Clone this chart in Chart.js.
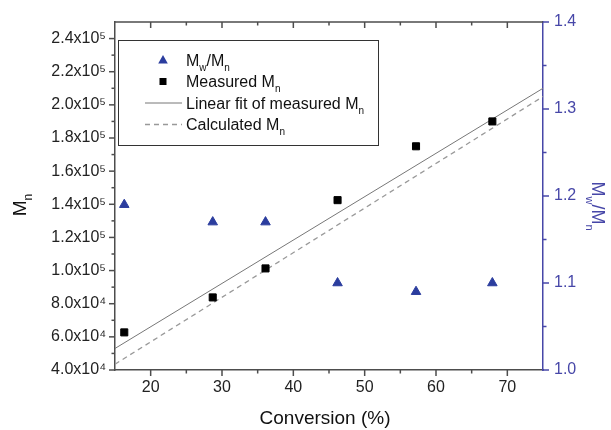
<!DOCTYPE html>
<html>
<head>
<meta charset="utf-8">
<script src="https://cdn.jsdelivr.net/npm/chart.js@4.4.1/dist/chart.umd.min.js"></script>
<style>
html, body { margin: 0; padding: 0; background: #fff; }
</style>
</head>
<body>
<canvas id="chartMn" width="611" height="430"></canvas>
<script>
// values
const conversion = [16.3, 28.7, 36.1, 46.2, 57.2, 67.9];
const measuredMn = [62700, 83800, 101300, 142500, 175000, 190000];
const dispersity = [1.19, 1.17, 1.17, 1.10, 1.09, 1.10];
const fitX = [15, 75];
const fitMn = [53000, 210000];
const calcX = [15, 75];
const calcMn = [43500, 205000];

// axis ticks
const xTicks = [20, 30, 40, 50, 60, 70];
const xMinor = [25, 35, 45, 55, 65];
const mnTicks = [40000, 60000, 80000, 100000, 120000, 140000, 160000, 180000, 200000, 220000, 240000];
const mnMinor = [50000, 70000, 90000, 110000, 130000, 150000, 170000, 190000, 210000, 230000];
const pdiTicks = [1.0, 1.1, 1.2, 1.3, 1.4];
const pdiMinor = [1.05, 1.15, 1.25, 1.35];

const FONT = '"Liberation Sans", Arial, sans-serif';
const AXIS = '#4d4d4d';
const BLUE = '#4747a8';
const TRI = '#2b3d9e';

function pts(xs, ys) {
    return xs.map(function(x, i) { return { x: x, y: ys[i] }; });
}

function fmtMn(v) {
    if (v >= 100000) return (v / 100000).toFixed(1) + 'x10\u2075';
    return (v / 10000).toFixed(1) + 'x10\u2074';
}

// text with subscripts, parts = [[text, isSub], ...]
function drawRich(ctx, parts, x, y, size, align) {
    var sub = Math.round(size * 0.62);
    var w = 0;
    parts.forEach(function(p) {
        ctx.font = (p[1] ? sub : size) + 'px ' + FONT;
        w += ctx.measureText(p[0]).width;
    });
    var cx = align === 'center' ? x - w / 2 : x;
    ctx.textAlign = 'left';
    ctx.textBaseline = 'alphabetic';
    parts.forEach(function(p) {
        ctx.font = (p[1] ? sub : size) + 'px ' + FONT;
        ctx.fillText(p[0], cx, p[1] ? y + size * 0.32 : y);
        cx += ctx.measureText(p[0]).width;
    });
}

function line(ctx, x1, y1, x2, y2) {
    ctx.beginPath();
    ctx.moveTo(x1, y1);
    ctx.lineTo(x2, y2);
    ctx.stroke();
}

const extras = {
    id: 'extras',
    afterDraw(chart) {
        const ctx = chart.ctx;
        const a = chart.chartArea;
        const sx = chart.scales.x, sy = chart.scales.y, sy1 = chart.scales.y1;
        ctx.save();

        // top frame
        ctx.strokeStyle = AXIS;
        ctx.lineWidth = 1.5;
        line(ctx, a.left, a.top, a.right, a.top);

        // tick marks
        ctx.lineWidth = 1.5;
        xTicks.forEach(function(v) {
            var p = sx.getPixelForValue(v);
            line(ctx, p, a.bottom, p, a.bottom + 6);
            line(ctx, p, a.top, p, a.top + 6);
        });
        xMinor.forEach(function(v) {
            var p = sx.getPixelForValue(v);
            line(ctx, p, a.bottom, p, a.bottom + 3.5);
            line(ctx, p, a.top, p, a.top + 3.5);
        });
        mnTicks.forEach(function(v) {
            var p = sy.getPixelForValue(v);
            line(ctx, a.left, p, a.left - 6, p);
        });
        mnMinor.forEach(function(v) {
            var p = sy.getPixelForValue(v);
            line(ctx, a.left, p, a.left - 3.5, p);
        });
        ctx.strokeStyle = BLUE;
        pdiTicks.forEach(function(v) {
            var p = sy1.getPixelForValue(v);
            line(ctx, a.right, p, a.right + 6, p);
        });
        pdiMinor.forEach(function(v) {
            var p = sy1.getPixelForValue(v);
            line(ctx, a.right, p, a.right + 3.5, p);
        });

        // axis titles
        ctx.fillStyle = '#111';
        drawRich(ctx, [['Conversion (%)', 0]], (a.left + a.right) / 2 - 4, 424, 19, 'center');

        ctx.save();
        ctx.translate(26, 205);
        ctx.rotate(-Math.PI / 2);
        drawRich(ctx, [['M', 0], ['n', 1]], 0, 0, 19, 'center');
        ctx.restore();

        ctx.save();
        ctx.fillStyle = BLUE;
        ctx.translate(592, 206);
        ctx.rotate(Math.PI / 2);
        drawRich(ctx, [['M', 0], ['w', 1], ['/M', 0], ['n', 1]], 0, 0, 18, 'center');
        ctx.restore();

        // legend
        ctx.strokeStyle = '#333';
        ctx.lineWidth = 1;
        ctx.strokeRect(118.5, 40.5, 260, 105);

        var tx = 186, sxm = 163;
        var rows = [60, 81.5, 103, 124.5];

        ctx.fillStyle = TRI;
        ctx.beginPath();
        ctx.moveTo(sxm, rows[0] - 5);
        ctx.lineTo(sxm + 4.8, rows[0] + 3.5);
        ctx.lineTo(sxm - 4.8, rows[0] + 3.5);
        ctx.closePath();
        ctx.fill();

        ctx.fillStyle = '#000';
        ctx.fillRect(sxm - 3.5, rows[1] - 3.5, 7, 7);

        ctx.strokeStyle = '#777';
        ctx.lineWidth = 1;
        line(ctx, 145, rows[2], 182, rows[2]);
        ctx.strokeStyle = '#999';
        ctx.lineWidth = 1.3;
        ctx.setLineDash([5, 4]);
        line(ctx, 145, rows[3], 182, rows[3]);
        ctx.setLineDash([]);

        ctx.fillStyle = '#111';
        drawRich(ctx, [['M', 0], ['w', 1], ['/M', 0], ['n', 1]], tx, rows[0] + 5.5, 16, 'left');
        drawRich(ctx, [['Measured M', 0], ['n', 1]], tx, rows[1] + 5.5, 16, 'left');
        drawRich(ctx, [['Linear fit of measured M', 0], ['n', 1]], tx, rows[2] + 5.5, 16, 'left');
        drawRich(ctx, [['Calculated M', 0], ['n', 1]], tx, rows[3] + 5.5, 16, 'left');

        ctx.restore();
    }
};

var ctx = document.getElementById('chartMn').getContext('2d');
var chartMn = new Chart(ctx, {
    type: 'scatter',
    data: {
        datasets: [{
            label: 'Mw/Mn',
            data: pts(conversion, dispersity),
            yAxisID: 'y1',
            pointStyle: 'triangle',
            pointRadius: 5.5,
            backgroundColor: TRI,
            borderColor: TRI,
            borderWidth: 1,
            order: 0
        }, {
            label: 'Measured Mn',
            data: pts(conversion, measuredMn),
            yAxisID: 'y',
            pointStyle: 'rect',
            pointRadius: 5,
            backgroundColor: '#000',
            borderColor: '#000',
            borderWidth: 1,
            order: 0
        }, {
            label: 'Linear fit of measured Mn',
            data: pts(fitX, fitMn),
            yAxisID: 'y',
            showLine: true,
            pointRadius: 0,
            borderColor: '#777',
            borderWidth: 1,
            order: 1
        }, {
            label: 'Calculated Mn',
            data: pts(calcX, calcMn),
            yAxisID: 'y',
            showLine: true,
            pointRadius: 0,
            borderColor: '#999',
            borderWidth: 1.3,
            borderDash: [5, 4],
            order: 1
        }]
    },
    options: {
        responsive: false,
        animation: false,
        devicePixelRatio: 1,
        layout: { padding: { top: 22, left: 0, right: 0, bottom: 0 } },
        plugins: {
            legend: { display: false },
            tooltip: { enabled: false }
        },
        scales: {
            x: {
                type: 'linear',
                min: 15,
                max: 75,
                afterBuildTicks: function(s) { s.ticks = xTicks.map(function(v) { return { value: v }; }); },
                afterFit: function(s) { s.height = 60; },
                grid: { display: false, drawTicks: false },
                border: { color: AXIS, width: 1.5 },
                ticks: { color: '#222', padding: 8, font: { family: FONT, size: 16 } }
            },
            y: {
                type: 'linear',
                position: 'left',
                min: 40000,
                max: 250000,
                afterBuildTicks: function(s) { s.ticks = mnTicks.map(function(v) { return { value: v }; }); },
                afterFit: function(s) { s.width = 115; },
                grid: { display: false, drawTicks: false },
                border: { color: AXIS, width: 1.5 },
                ticks: {
                    color: '#222',
                    padding: 9,
                    font: { family: FONT, size: 16 },
                    callback: function(value) { return fmtMn(value); }
                }
            },
            y1: {
                type: 'linear',
                position: 'right',
                min: 1.0,
                max: 1.4,
                afterBuildTicks: function(s) { s.ticks = pdiTicks.map(function(v) { return { value: v }; }); },
                afterFit: function(s) { s.width = 68; },
                grid: { display: false, drawTicks: false },
                border: { color: BLUE, width: 1.5 },
                ticks: {
                    color: BLUE,
                    padding: 11,
                    font: { family: FONT, size: 16 },
                    callback: function(value) { return value.toFixed(1); }
                }
            }
        }
    },
    plugins: [extras]
});
</script>
</body>
</html>
